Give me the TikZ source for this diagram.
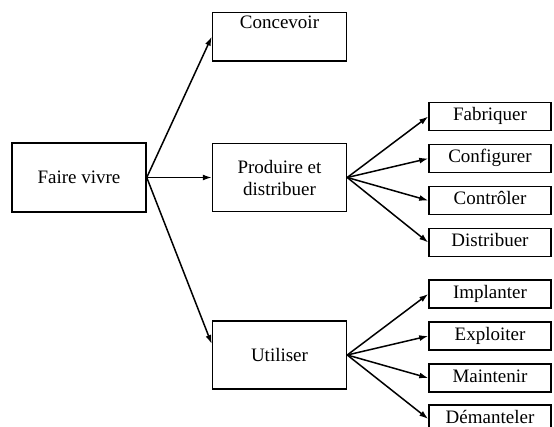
\documentclass[tikz,border=0pt]{standalone}
\usepackage{fontspec}
\setmainfont{Liberation Serif}
\usepackage{tikz}
\usetikzlibrary{arrows.meta,positioning}

\begin{document}
\begin{tikzpicture}[font=\fontsize{19}{22}\selectfont,node distance=12.5pt,line width=1.5pt,
    >={Latex[length=9pt,width=6pt]},
    phase/.style={draw,minimum width=134pt,minimum height=68pt,align=center},
    task/.style={draw,minimum width=122pt,minimum height=28pt,text height=12pt,text depth=4pt,inner sep=0pt}]
        \useasboundingbox (-79pt,177.5pt) rectangle (475pt,-248.5pt);
        \node[phase,minimum height=69pt] (fv) {Faire vivre};
        \node[phase,right=65pt of fv] (pd) {Produire et\\distribuer};
        \node[draw,minimum width=134pt,text height=13pt,text depth=29pt,above=81pt of pd] (conc) {Concevoir};
        \node[phase,below=108pt of pd] (ut) {Utiliser};
        \node[task,right=81pt of pd,yshift=61pt] (fab) {Fabriquer};
        \node[task,below=of fab] (cfg) {Configurer};
        \node[task,below=of cfg] (ctrl) {Contrôler};
        \node[task,below=of ctrl] (dist) {Distribuer};
        \node[task,right=81pt of ut,yshift=61pt] (impl) {Implanter};
        \node[task,below=of impl] (expl) {Exploiter};
        \node[task,below=of expl] (maint) {Maintenir};
        \node[task,below=of maint,yshift=1pt] (dem) {Démanteler};
        \draw[->] (fv.east)--(conc.west);
        \draw[->] (fv.east)--(pd.west);
        \draw[->] (fv.east)--([yshift=11pt]ut.west);
        \draw[->] (pd.east)--(fab.west);
        \draw[->] (pd.east)--(cfg.west);
        \draw[->] (pd.east)--(ctrl.west);
        \draw[->] (pd.east)--(dist.west);
        \draw[->] (ut.east)--(impl.west);
        \draw[->] (ut.east)--(expl.west);
        \draw[->] (ut.east)--(maint.west);
        \draw[->] (ut.east)--(dem.west);
      \end{tikzpicture}
\end{document}
